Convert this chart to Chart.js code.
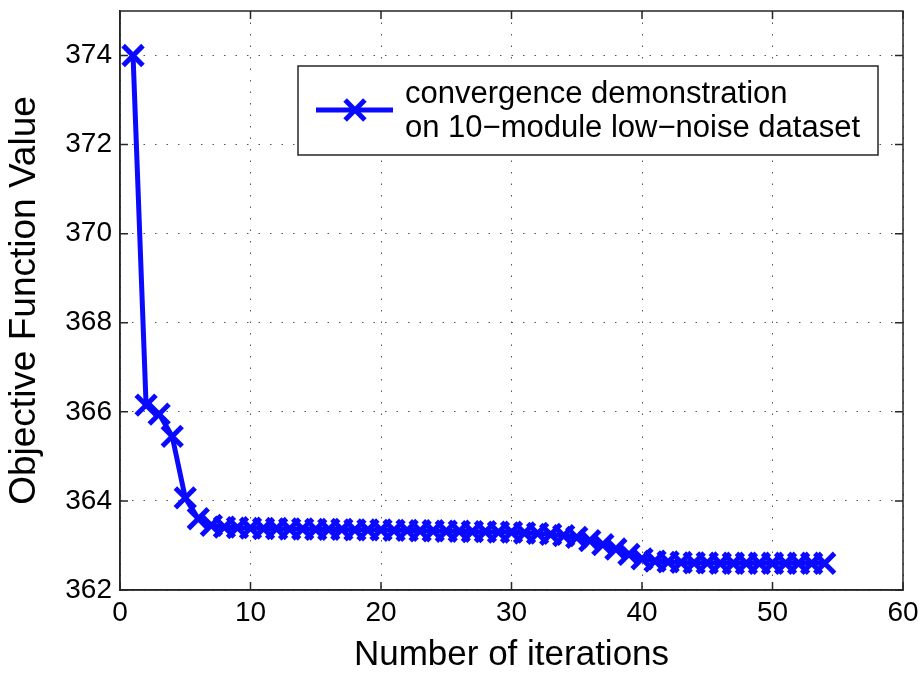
<!DOCTYPE html>
<html>
<head>
<meta charset="utf-8">
<script src="https://cdn.jsdelivr.net/npm/chart.js@4/dist/chart.umd.min.js"></script>
<style>
  html, body { margin: 0; padding: 0; background: #fff; }
  #wrap { width: 921px; height: 673px; position: relative; }
</style>
</head>
<body>
<div id="wrap"><canvas id="c" width="921" height="673"></canvas></div>
<script>
const iterations = [];
for (let i = 1; i <= 54; i++) iterations.push(i);
const objectiveValues = [
  374.0, 366.15, 365.95, 365.45, 364.07, 363.6, 363.45, 363.41, 363.4, 363.39,
  363.38, 363.38, 363.37, 363.37, 363.36, 363.36, 363.36, 363.35, 363.35, 363.35,
  363.34, 363.34, 363.33, 363.33, 363.32, 363.32, 363.31, 363.31, 363.3, 363.3,
  363.28, 363.27, 363.25, 363.22, 363.18, 363.11, 363.02, 362.92, 362.8, 362.7,
  362.65, 362.63, 362.62, 362.61, 362.61, 362.6, 362.6, 362.6, 362.6, 362.6,
  362.6, 362.6, 362.6, 362.6
];
const seriesLabel = ['convergence demonstration', 'on 10\u2212module low\u2212noise dataset'];
const xTitle = 'Number of iterations';
const yTitle = 'Objective Function Value';
const xTickValues = [0, 10, 20, 30, 40, 50, 60];
const yTickValues = [362, 364, 366, 368, 370, 372, 374];

const FONT = "'Liberation Sans', Arial, Helvetica, sans-serif";
const BLUE = '#0a0aff';
const AXIS = '#262626';
const MARKER_R = 14;
const MARKER_W = 5;

const points = iterations.map((x, i) => ({ x: x, y: objectiveValues[i] }));

const framePlugin = {
  id: 'frame',
  afterDatasetsDraw(chart) {
    const ctx = chart.ctx;
    const a = chart.chartArea;
    const xs = chart.scales.x, ys = chart.scales.y;
    ctx.save();
    ctx.strokeStyle = AXIS;
    ctx.lineWidth = 1.5;
    ctx.strokeRect(a.left, a.top, a.right - a.left, a.bottom - a.top);
    const L = 8;
    ctx.beginPath();
    xTickValues.forEach(v => {
      const px = xs.getPixelForValue(v);
      ctx.moveTo(px, a.bottom); ctx.lineTo(px, a.bottom - L);
      ctx.moveTo(px, a.top); ctx.lineTo(px, a.top + L);
    });
    yTickValues.forEach(v => {
      const py = ys.getPixelForValue(v);
      ctx.moveTo(a.left, py); ctx.lineTo(a.left + L, py);
      ctx.moveTo(a.right, py); ctx.lineTo(a.right - L, py);
    });
    ctx.stroke();

    // legend box
    const bx = 298, by = 66, bw = 580, bh = 89;
    ctx.fillStyle = '#fff';
    ctx.fillRect(bx, by, bw, bh);
    ctx.strokeStyle = AXIS;
    ctx.lineWidth = 1.5;
    ctx.strokeRect(bx, by, bw, bh);
    const ly = 110;
    ctx.strokeStyle = BLUE;
    ctx.lineWidth = MARKER_W;
    ctx.beginPath();
    ctx.moveTo(316, ly); ctx.lineTo(393, ly);
    ctx.stroke();
    const d = MARKER_R * Math.SQRT1_2;
    ctx.beginPath();
    ctx.moveTo(355 - d, ly - d); ctx.lineTo(355 + d, ly + d);
    ctx.moveTo(355 - d, ly + d); ctx.lineTo(355 + d, ly - d);
    ctx.stroke();
    ctx.fillStyle = '#000';
    ctx.font = '31px ' + FONT;
    ctx.textAlign = 'left';
    ctx.textBaseline = 'middle';
    ctx.fillText(seriesLabel[0], 405, 94);
    ctx.fillText(seriesLabel[1], 405, 128);
    ctx.restore();
  }
};

new Chart(document.getElementById('c'), {
  type: 'line',
  data: {
    datasets: [{
      label: seriesLabel.join(' '),
      data: points,
      borderColor: BLUE,
      backgroundColor: BLUE,
      borderWidth: 5,
      pointStyle: 'crossRot',
      pointRadius: MARKER_R,
      pointBorderWidth: MARKER_W,
      pointBorderColor: BLUE,
      pointHoverRadius: MARKER_R,
      tension: 0,
      fill: false
    }]
  },
  options: {
    responsive: false,
    animation: false,
    devicePixelRatio: 1,
    layout: { autoPadding: false, padding: { top: 11, right: 18, left: 0, bottom: 0 } },
    plugins: {
      legend: { display: false },
      tooltip: { enabled: false }
    },
    scales: {
      x: {
        type: 'linear',
        min: 0, max: 60,
        afterFit(s) { s.height = 83; s.paddingLeft = 0; s.paddingRight = 0; },
        afterBuildTicks(s) { s.ticks = xTickValues.map(v => ({ value: v })); },
        ticks: {
          color: '#000',
          font: { family: FONT, size: 28 },
          padding: 6,
          maxRotation: 0,
          autoSkip: false
        },
        grid: {
          color: '#555',
          lineWidth: 1,
          drawTicks: false
        },
        border: { display: true, color: AXIS, width: 1.5, dash: [1.5, 10] },
        title: {
          display: true,
          text: xTitle,
          color: '#000',
          font: { family: FONT, size: 35, lineHeight: 1 },
          padding: { top: 0, bottom: 0 }
        }
      },
      y: {
        type: 'linear',
        min: 362, max: 375,
        afterFit(s) { s.width = 120; s.paddingTop = 0; s.paddingBottom = 0; },
        afterBuildTicks(s) { s.ticks = yTickValues.map(v => ({ value: v })); },
        ticks: {
          color: '#000',
          font: { family: FONT, size: 28 },
          padding: 8,
          autoSkip: false
        },
        grid: {
          color: '#555',
          lineWidth: 1,
          drawTicks: false
        },
        border: { display: true, color: AXIS, width: 1.5, dash: [1.5, 10] },
        title: {
          display: true,
          text: yTitle,
          color: '#000',
          font: { family: FONT, size: 37, lineHeight: 1 },
          padding: { top: 6, bottom: 0 }
        }
      }
    }
  },
  plugins: [framePlugin]
});
</script>
</body>
</html>
